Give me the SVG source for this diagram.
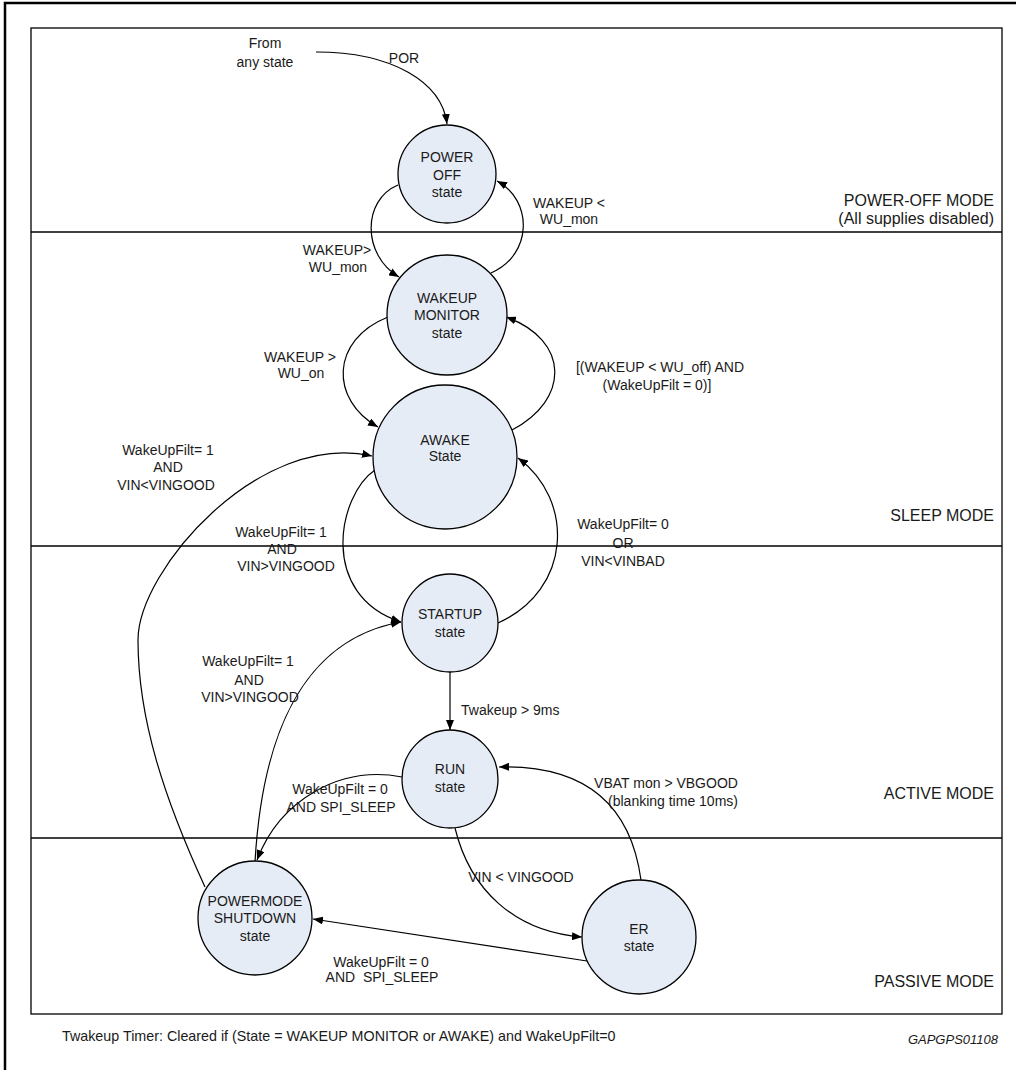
<svg xmlns="http://www.w3.org/2000/svg" width="1016" height="1070" viewBox="0 0 1016 1070">
<style>
text{font-family:"Liberation Sans",Arial,sans-serif;font-size:14px;fill:#1a1a1a;text-anchor:middle}
.mode{font-size:16px;text-anchor:end}
.node ellipse{fill:#e6ecf6;stroke:#000;stroke-width:1.3}
.conn path{fill:none;stroke:#000;stroke-width:1.2}
.frame{fill:none;stroke:#000}
</style>
<defs>
<marker id="ah" markerUnits="userSpaceOnUse" markerWidth="11" markerHeight="8" refX="10" refY="4" orient="auto">
<path d="M0,0 L10,4 L0,8 z" fill="#000"/>
</marker>
</defs>
<rect width="1016" height="1070" fill="#fff"/>
<path class="frame" d="M5,1070 V3 H1016" stroke-width="2.5"/>
<rect class="frame" x="31" y="28" width="971" height="986" stroke-width="1.3"/>
<line x1="31" y1="232" x2="1002" y2="232" stroke="#000" stroke-width="1.3"/>
<line x1="31" y1="546" x2="1002" y2="546" stroke="#000" stroke-width="1.3"/>
<line x1="31" y1="838" x2="1002" y2="838" stroke="#000" stroke-width="1.3"/>
<text class="mode" x="994" y="206">POWER-OFF MODE</text>
<text class="mode" x="994" y="224">(All supplies disabled)</text>
<text class="mode" x="994" y="521">SLEEP MODE</text>
<text class="mode" x="994" y="799">ACTIVE MODE</text>
<text class="mode" x="994" y="987">PASSIVE MODE</text>
<g id="connectors" class="conn">
<path d="M316,52 C392,52 442,82 447,124" marker-end="url(#ah)"/>
<path d="M398,185 C362,200 362,255 399,277" marker-end="url(#ah)"/>
<path d="M491,273 C533,255 533,200 497,181" marker-end="url(#ah)"/>
<path d="M388,317 C330,340 330,400 378,427" marker-end="url(#ah)"/>
<path d="M512,430 C570,400 570,340 506,317" marker-end="url(#ah)"/>
<path d="M205,887 C165,800 138,720 138,640 C138,570 260,430 372,456" marker-end="url(#ah)"/>
<path d="M375,470 C338,495 318,595 401,622" marker-end="url(#ah)"/>
<path d="M498,623 C572,590 575,500 518,458" marker-end="url(#ah)"/>
<path d="M450,672 L450,730" marker-end="url(#ah)"/>
<path d="M255,862 C262,740 300,640 401,622" marker-end="url(#ah)"/>
<path d="M402,777 C340,765 280,800 257,860" marker-end="url(#ah)"/>
<path d="M455,828 C470,890 515,932 582,937" marker-end="url(#ah)"/>
<path d="M641,880 C630,800 580,765 499,767" marker-end="url(#ah)"/>
<path d="M587,961 L313,919" marker-end="url(#ah)"/>
</g>
<g id="edge-labels">
<text x="265" y="48">From</text>
<text x="265" y="67">any state</text>
<text x="404" y="63">POR</text>
<text x="337" y="255">WAKEUP&gt;</text>
<text x="338" y="272">WU_mon</text>
<text x="569" y="208">WAKEUP &lt;</text>
<text x="569" y="224">WU_mon</text>
<text x="300" y="362">WAKEUP &gt;</text>
<text x="301" y="378">WU_on</text>
<text x="660" y="372">[(WAKEUP &lt; WU_off) AND</text>
<text x="657" y="390">(WakeUpFilt = 0)]</text>
<text x="168" y="455">WakeUpFilt= 1</text>
<text x="168" y="472">AND</text>
<text x="166" y="490">VIN&lt;VINGOOD</text>
<text x="281" y="537">WakeUpFilt= 1</text>
<text x="282" y="554">AND</text>
<text x="286" y="571">VIN&gt;VINGOOD</text>
<text x="623" y="529">WakeUpFilt= 0</text>
<text x="623" y="548">OR</text>
<text x="623" y="566">VIN&lt;VINBAD</text>
<text x="248" y="666">WakeUpFilt= 1</text>
<text x="249" y="685">AND</text>
<text x="250" y="702">VIN&gt;VINGOOD</text>
<text x="461" y="715" style="text-anchor:start">Twakeup &gt; 9ms</text>
<text x="340" y="794">WakeUpFilt = 0</text>
<text x="341" y="812">AND SPI_SLEEP</text>
<text x="666" y="788">VBAT mon &gt; VBGOOD</text>
<text x="673" y="806">(blanking time 10ms)</text>
<text x="521" y="882">VIN &lt; VINGOOD</text>
<text x="381" y="967">WakeUpFilt = 0</text>
<text x="382" y="982" xml:space="preserve">AND  SPI_SLEEP</text>
</g>
<g id="node-poweroff" class="node">
<ellipse cx="447" cy="174" rx="49" ry="49"/>
<text x="447" y="162">POWER</text><text x="447" y="180">OFF</text><text x="447" y="197">state</text>
</g>
<g id="node-wakeupmonitor" class="node">
<ellipse cx="447" cy="315" rx="60" ry="60"/>
<text x="447" y="303">WAKEUP</text><text x="447" y="320">MONITOR</text><text x="447" y="338">state</text>
</g>
<g id="node-awake" class="node">
<ellipse cx="445" cy="457" rx="72" ry="72"/>
<text x="445" y="445">AWAKE</text><text x="445" y="461">State</text>
</g>
<g id="node-startup" class="node">
<ellipse cx="450" cy="623" rx="48" ry="49"/>
<text x="450" y="619">STARTUP</text><text x="450" y="637">state</text>
</g>
<g id="node-run" class="node">
<ellipse cx="450" cy="779" rx="48" ry="49"/>
<text x="450" y="774">RUN</text><text x="450" y="792">state</text>
</g>
<g id="node-powermode" class="node">
<ellipse cx="255" cy="918" rx="57" ry="57"/>
<text x="255" y="906">POWERMODE</text><text x="255" y="923">SHUTDOWN</text><text x="255" y="941">state</text>
</g>
<g id="node-er" class="node">
<ellipse cx="639" cy="937" rx="57" ry="57"/>
<text x="639" y="934">ER</text><text x="639" y="951">state</text>
</g>
<text x="62" y="1041" style="text-anchor:start;font-size:14.3px">Twakeup Timer: Cleared if (State = WAKEUP MONITOR or AWAKE) and WakeUpFilt=0</text>
<text x="998" y="1044" style="text-anchor:end;font-size:13px;font-style:italic">GAPGPS01108</text>
</svg>
